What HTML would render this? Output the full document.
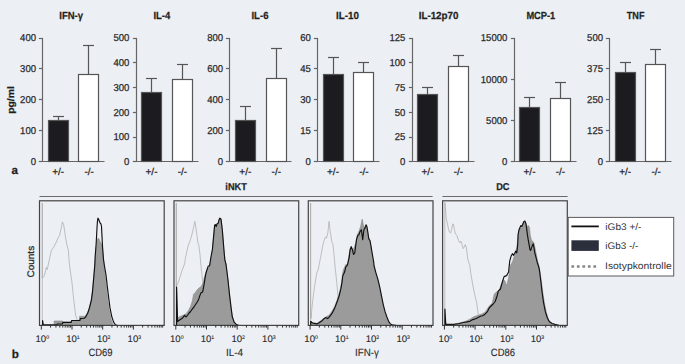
<!DOCTYPE html>
<html><head><meta charset="utf-8"><style>
html,body{margin:0;padding:0;background:#eceff4;}
svg{display:block;}
text{text-rendering:geometricPrecision;font-family:"Liberation Sans",sans-serif;fill:#2a2a2a;stroke:#2a2a2a;stroke-width:0.25px;}
.tt{font-size:10.3px;font-weight:bold;fill:#1e1e1e;}
.tl{font-size:10px;}
.lt{font-size:11.6px;font-weight:bold;fill:#1e1e1e;}
.yl{font-size:9.5px;font-weight:bold;fill:#1e1e1e;}
.cl{font-size:9.5px;}
.hd{font-size:10px;font-weight:bold;fill:#1e1e1e;}
.xl{font-size:9.6px;stroke-width:0.1px;}
.sp{font-size:5.2px;}
.xn{font-size:10.5px;stroke-width:0.1px;}
.lg{font-size:9.6px;stroke-width:0;fill:#333;}
.ax{stroke:#666;stroke-width:1.2;fill:none;}
.br{stroke:#6a6a6a;stroke-width:1.2;fill:none;}
.eb{stroke:#555;stroke-width:1.2;}
.bar{stroke:#555;stroke-width:1.2;}
.pb{stroke:#444;stroke-width:1.2;}
.tk{stroke:#222;stroke-width:0.9;}
</style></head><body>
<svg width="685" height="364" viewBox="0 0 685 364">
<defs><clipPath id="c0"><rect x="39.5" y="200.8" width="124.7" height="124.59999999999997"/></clipPath><clipPath id="c1"><rect x="174.0" y="200.8" width="124.7" height="124.59999999999997"/></clipPath><clipPath id="c2"><rect x="308.3" y="200.8" width="124.7" height="124.59999999999997"/></clipPath><clipPath id="c3"><rect x="442.6" y="200.8" width="124.7" height="124.59999999999997"/></clipPath></defs>
<rect width="685" height="364" fill="#eceff4"/>
<text x="59.28" y="18.8" class="tt" textLength="23.77" lengthAdjust="spacingAndGlyphs">IFN-γ</text>
<line x1="42.5" y1="37.9" x2="42.5" y2="161.5" class="ax"/>
<line x1="38.9" y1="161.5" x2="104.5" y2="161.5" class="ax"/>
<line x1="38.9" y1="161.5" x2="42.5" y2="161.5" class="ax"/>
<text x="36.0" y="165.10" class="tl" text-anchor="end" textLength="5.30" lengthAdjust="spacingAndGlyphs">0</text>
<line x1="38.9" y1="130.5" x2="42.5" y2="130.5" class="ax"/>
<text x="36.0" y="134.15" class="tl" text-anchor="end" textLength="15.90" lengthAdjust="spacingAndGlyphs">100</text>
<line x1="38.9" y1="99.5" x2="42.5" y2="99.5" class="ax"/>
<text x="36.0" y="103.20" class="tl" text-anchor="end" textLength="15.90" lengthAdjust="spacingAndGlyphs">200</text>
<line x1="38.9" y1="68.5" x2="42.5" y2="68.5" class="ax"/>
<text x="36.0" y="72.25" class="tl" text-anchor="end" textLength="15.90" lengthAdjust="spacingAndGlyphs">300</text>
<line x1="38.9" y1="38.5" x2="42.5" y2="38.5" class="ax"/>
<text x="36.0" y="41.30" class="tl" text-anchor="end" textLength="15.90" lengthAdjust="spacingAndGlyphs">400</text>
<line x1="58.5" y1="116.5" x2="58.5" y2="120.5" class="eb"/>
<line x1="53.0" y1="116.5" x2="64.0" y2="116.5" class="eb"/>
<rect x="48.5" y="120.5" width="20.0" height="41.0" fill="#1c1b1f" class="bar"/>
<line x1="88.5" y1="45.5" x2="88.5" y2="74.5" class="eb"/>
<line x1="83.0" y1="45.5" x2="94.0" y2="45.5" class="eb"/>
<rect x="78.5" y="74.5" width="20.0" height="87.0" fill="#fff" class="bar"/>
<text x="58.2" y="174.9" class="tl" text-anchor="middle">+/-</text>
<text x="89.2" y="174.9" class="tl" text-anchor="middle">-/-</text>
<text x="153.38" y="18.8" class="tt" textLength="16.89" lengthAdjust="spacingAndGlyphs">IL-4</text>
<line x1="136.5" y1="37.9" x2="136.5" y2="161.5" class="ax"/>
<line x1="132.9" y1="161.5" x2="198.5" y2="161.5" class="ax"/>
<line x1="132.9" y1="161.5" x2="136.5" y2="161.5" class="ax"/>
<text x="129.3" y="165.10" class="tl" text-anchor="end" textLength="5.30" lengthAdjust="spacingAndGlyphs">0</text>
<line x1="132.9" y1="137.5" x2="136.5" y2="137.5" class="ax"/>
<text x="129.3" y="140.34" class="tl" text-anchor="end" textLength="15.90" lengthAdjust="spacingAndGlyphs">100</text>
<line x1="132.9" y1="112.5" x2="136.5" y2="112.5" class="ax"/>
<text x="129.3" y="115.58" class="tl" text-anchor="end" textLength="15.90" lengthAdjust="spacingAndGlyphs">200</text>
<line x1="132.9" y1="87.5" x2="136.5" y2="87.5" class="ax"/>
<text x="129.3" y="90.82" class="tl" text-anchor="end" textLength="15.90" lengthAdjust="spacingAndGlyphs">300</text>
<line x1="132.9" y1="62.5" x2="136.5" y2="62.5" class="ax"/>
<text x="129.3" y="66.06" class="tl" text-anchor="end" textLength="15.90" lengthAdjust="spacingAndGlyphs">400</text>
<line x1="132.9" y1="38.5" x2="136.5" y2="38.5" class="ax"/>
<text x="129.3" y="41.30" class="tl" text-anchor="end" textLength="15.90" lengthAdjust="spacingAndGlyphs">500</text>
<line x1="151.5" y1="78.5" x2="151.5" y2="92.5" class="eb"/>
<line x1="146.0" y1="78.5" x2="157.0" y2="78.5" class="eb"/>
<rect x="141.5" y="92.5" width="20.0" height="69.0" fill="#1c1b1f" class="bar"/>
<line x1="182.5" y1="64.5" x2="182.5" y2="79.5" class="eb"/>
<line x1="177.0" y1="64.5" x2="188.0" y2="64.5" class="eb"/>
<rect x="172.5" y="79.5" width="20.0" height="82.0" fill="#fff" class="bar"/>
<text x="151.5" y="174.9" class="tl" text-anchor="middle">+/-</text>
<text x="182.5" y="174.9" class="tl" text-anchor="middle">-/-</text>
<text x="251.48" y="18.8" class="tt" textLength="16.98" lengthAdjust="spacingAndGlyphs">IL-6</text>
<line x1="229.5" y1="37.9" x2="229.5" y2="161.5" class="ax"/>
<line x1="225.9" y1="161.5" x2="291.5" y2="161.5" class="ax"/>
<line x1="225.9" y1="161.5" x2="229.5" y2="161.5" class="ax"/>
<text x="223.10000000000002" y="165.10" class="tl" text-anchor="end" textLength="5.30" lengthAdjust="spacingAndGlyphs">0</text>
<line x1="225.9" y1="130.5" x2="229.5" y2="130.5" class="ax"/>
<text x="223.10000000000002" y="134.15" class="tl" text-anchor="end" textLength="15.90" lengthAdjust="spacingAndGlyphs">200</text>
<line x1="225.9" y1="99.5" x2="229.5" y2="99.5" class="ax"/>
<text x="223.10000000000002" y="103.20" class="tl" text-anchor="end" textLength="15.90" lengthAdjust="spacingAndGlyphs">400</text>
<line x1="225.9" y1="68.5" x2="229.5" y2="68.5" class="ax"/>
<text x="223.10000000000002" y="72.25" class="tl" text-anchor="end" textLength="15.90" lengthAdjust="spacingAndGlyphs">600</text>
<line x1="225.9" y1="38.5" x2="229.5" y2="38.5" class="ax"/>
<text x="223.10000000000002" y="41.30" class="tl" text-anchor="end" textLength="15.90" lengthAdjust="spacingAndGlyphs">800</text>
<line x1="245.5" y1="106.5" x2="245.5" y2="120.5" class="eb"/>
<line x1="240.0" y1="106.5" x2="251.0" y2="106.5" class="eb"/>
<rect x="235.5" y="120.5" width="20.0" height="41.0" fill="#1c1b1f" class="bar"/>
<line x1="276.5" y1="48.5" x2="276.5" y2="78.5" class="eb"/>
<line x1="271.0" y1="48.5" x2="282.0" y2="48.5" class="eb"/>
<rect x="266.5" y="78.5" width="20.0" height="83.0" fill="#fff" class="bar"/>
<text x="245.3" y="174.9" class="tl" text-anchor="middle">+/-</text>
<text x="276.3" y="174.9" class="tl" text-anchor="middle">-/-</text>
<text x="335.96" y="18.8" class="tt" textLength="22.92" lengthAdjust="spacingAndGlyphs">IL-10</text>
<line x1="317.5" y1="37.9" x2="317.5" y2="161.5" class="ax"/>
<line x1="313.9" y1="161.5" x2="379.5" y2="161.5" class="ax"/>
<line x1="313.9" y1="161.5" x2="317.5" y2="161.5" class="ax"/>
<text x="310.8" y="165.10" class="tl" text-anchor="end" textLength="5.30" lengthAdjust="spacingAndGlyphs">0</text>
<line x1="313.9" y1="130.5" x2="317.5" y2="130.5" class="ax"/>
<text x="310.8" y="134.15" class="tl" text-anchor="end" textLength="10.60" lengthAdjust="spacingAndGlyphs">15</text>
<line x1="313.9" y1="99.5" x2="317.5" y2="99.5" class="ax"/>
<text x="310.8" y="103.20" class="tl" text-anchor="end" textLength="10.60" lengthAdjust="spacingAndGlyphs">30</text>
<line x1="313.9" y1="68.5" x2="317.5" y2="68.5" class="ax"/>
<text x="310.8" y="72.25" class="tl" text-anchor="end" textLength="10.60" lengthAdjust="spacingAndGlyphs">45</text>
<line x1="313.9" y1="38.5" x2="317.5" y2="38.5" class="ax"/>
<text x="310.8" y="41.30" class="tl" text-anchor="end" textLength="10.60" lengthAdjust="spacingAndGlyphs">60</text>
<line x1="333.5" y1="57.5" x2="333.5" y2="74.5" class="eb"/>
<line x1="328.0" y1="57.5" x2="339.0" y2="57.5" class="eb"/>
<rect x="323.5" y="74.5" width="20.0" height="87.0" fill="#1c1b1f" class="bar"/>
<line x1="363.5" y1="62.5" x2="363.5" y2="72.5" class="eb"/>
<line x1="358.0" y1="62.5" x2="369.0" y2="62.5" class="eb"/>
<rect x="353.5" y="72.5" width="20.0" height="89.0" fill="#fff" class="bar"/>
<text x="333.0" y="174.9" class="tl" text-anchor="middle">+/-</text>
<text x="364.0" y="174.9" class="tl" text-anchor="middle">-/-</text>
<text x="418.66" y="18.8" class="tt" textLength="39.85" lengthAdjust="spacingAndGlyphs">IL-12p70</text>
<line x1="412.5" y1="37.9" x2="412.5" y2="161.5" class="ax"/>
<line x1="408.9" y1="161.5" x2="474.5" y2="161.5" class="ax"/>
<line x1="408.9" y1="161.5" x2="412.5" y2="161.5" class="ax"/>
<text x="405.3" y="165.10" class="tl" text-anchor="end" textLength="5.30" lengthAdjust="spacingAndGlyphs">0</text>
<line x1="408.9" y1="137.5" x2="412.5" y2="137.5" class="ax"/>
<text x="405.3" y="140.34" class="tl" text-anchor="end" textLength="10.60" lengthAdjust="spacingAndGlyphs">25</text>
<line x1="408.9" y1="112.5" x2="412.5" y2="112.5" class="ax"/>
<text x="405.3" y="115.58" class="tl" text-anchor="end" textLength="10.60" lengthAdjust="spacingAndGlyphs">50</text>
<line x1="408.9" y1="87.5" x2="412.5" y2="87.5" class="ax"/>
<text x="405.3" y="90.82" class="tl" text-anchor="end" textLength="10.60" lengthAdjust="spacingAndGlyphs">75</text>
<line x1="408.9" y1="62.5" x2="412.5" y2="62.5" class="ax"/>
<text x="405.3" y="66.06" class="tl" text-anchor="end" textLength="15.90" lengthAdjust="spacingAndGlyphs">100</text>
<line x1="408.9" y1="38.5" x2="412.5" y2="38.5" class="ax"/>
<text x="405.3" y="41.30" class="tl" text-anchor="end" textLength="15.90" lengthAdjust="spacingAndGlyphs">125</text>
<line x1="427.5" y1="87.5" x2="427.5" y2="94.5" class="eb"/>
<line x1="422.0" y1="87.5" x2="433.0" y2="87.5" class="eb"/>
<rect x="417.5" y="94.5" width="20.0" height="67.0" fill="#1c1b1f" class="bar"/>
<line x1="458.5" y1="55.5" x2="458.5" y2="66.5" class="eb"/>
<line x1="453.0" y1="55.5" x2="464.0" y2="55.5" class="eb"/>
<rect x="448.5" y="66.5" width="20.0" height="95.0" fill="#fff" class="bar"/>
<text x="427.5" y="174.9" class="tl" text-anchor="middle">+/-</text>
<text x="458.5" y="174.9" class="tl" text-anchor="middle">-/-</text>
<text x="526.40" y="18.8" class="tt" textLength="28.85" lengthAdjust="spacingAndGlyphs">MCP-1</text>
<line x1="514.5" y1="37.9" x2="514.5" y2="161.5" class="ax"/>
<line x1="510.9" y1="161.5" x2="576.5" y2="161.5" class="ax"/>
<line x1="510.9" y1="161.5" x2="514.5" y2="161.5" class="ax"/>
<text x="507.3" y="165.10" class="tl" text-anchor="end" textLength="5.30" lengthAdjust="spacingAndGlyphs">0</text>
<line x1="510.9" y1="120.5" x2="514.5" y2="120.5" class="ax"/>
<text x="507.3" y="123.83" class="tl" text-anchor="end" textLength="21.20" lengthAdjust="spacingAndGlyphs">5000</text>
<line x1="510.9" y1="79.5" x2="514.5" y2="79.5" class="ax"/>
<text x="507.3" y="82.57" class="tl" text-anchor="end" textLength="26.50" lengthAdjust="spacingAndGlyphs">10000</text>
<line x1="510.9" y1="38.5" x2="514.5" y2="38.5" class="ax"/>
<text x="507.3" y="41.30" class="tl" text-anchor="end" textLength="26.50" lengthAdjust="spacingAndGlyphs">15000</text>
<line x1="529.5" y1="97.5" x2="529.5" y2="107.5" class="eb"/>
<line x1="524.0" y1="97.5" x2="535.0" y2="97.5" class="eb"/>
<rect x="519.5" y="107.5" width="20.0" height="54.0" fill="#1c1b1f" class="bar"/>
<line x1="560.5" y1="82.5" x2="560.5" y2="98.5" class="eb"/>
<line x1="555.0" y1="82.5" x2="566.0" y2="82.5" class="eb"/>
<rect x="550.5" y="98.5" width="20.0" height="63.0" fill="#fff" class="bar"/>
<text x="529.5" y="174.9" class="tl" text-anchor="middle">+/-</text>
<text x="560.5" y="174.9" class="tl" text-anchor="middle">-/-</text>
<text x="626.81" y="18.8" class="tt" textLength="17.70" lengthAdjust="spacingAndGlyphs">TNF</text>
<line x1="609.5" y1="37.9" x2="609.5" y2="161.5" class="ax"/>
<line x1="605.9" y1="161.5" x2="671.5" y2="161.5" class="ax"/>
<line x1="605.9" y1="161.5" x2="609.5" y2="161.5" class="ax"/>
<text x="603.0" y="165.10" class="tl" text-anchor="end" textLength="5.30" lengthAdjust="spacingAndGlyphs">0</text>
<line x1="605.9" y1="130.5" x2="609.5" y2="130.5" class="ax"/>
<text x="603.0" y="134.15" class="tl" text-anchor="end" textLength="15.90" lengthAdjust="spacingAndGlyphs">125</text>
<line x1="605.9" y1="99.5" x2="609.5" y2="99.5" class="ax"/>
<text x="603.0" y="103.20" class="tl" text-anchor="end" textLength="15.90" lengthAdjust="spacingAndGlyphs">250</text>
<line x1="605.9" y1="68.5" x2="609.5" y2="68.5" class="ax"/>
<text x="603.0" y="72.25" class="tl" text-anchor="end" textLength="15.90" lengthAdjust="spacingAndGlyphs">375</text>
<line x1="605.9" y1="38.5" x2="609.5" y2="38.5" class="ax"/>
<text x="603.0" y="41.30" class="tl" text-anchor="end" textLength="15.90" lengthAdjust="spacingAndGlyphs">500</text>
<line x1="625.5" y1="62.5" x2="625.5" y2="72.5" class="eb"/>
<line x1="620.0" y1="62.5" x2="631.0" y2="62.5" class="eb"/>
<rect x="615.5" y="72.5" width="20.0" height="89.0" fill="#1c1b1f" class="bar"/>
<line x1="655.5" y1="49.5" x2="655.5" y2="64.5" class="eb"/>
<line x1="650.0" y1="49.5" x2="661.0" y2="49.5" class="eb"/>
<rect x="645.5" y="64.5" width="20.0" height="97.0" fill="#fff" class="bar"/>
<text x="625.2" y="174.9" class="tl" text-anchor="middle">+/-</text>
<text x="656.2" y="174.9" class="tl" text-anchor="middle">-/-</text>
<text x="11.4" y="174" class="lt">a</text>
<text x="11.8" y="358.4" class="lt">b</text>
<text x="-113.77" y="13.8" class="yl" textLength="27.56" lengthAdjust="spacingAndGlyphs" transform="rotate(-90)">pg/ml</text>
<text x="-277.50" y="33.6" class="cl" textLength="31.63" lengthAdjust="spacingAndGlyphs" transform="rotate(-90)">Counts</text>
<line x1="39.5" y1="196.5" x2="432.6" y2="196.5" class="br"/>
<line x1="442.5" y1="196.5" x2="567.6" y2="196.5" class="br"/>
<text x="225.36" y="189.6" class="hd" textLength="21.46" lengthAdjust="spacingAndGlyphs">iNKT</text>
<text x="496.20" y="189.6" class="hd" textLength="13.27" lengthAdjust="spacingAndGlyphs">DC</text>
<g clip-path="url(#c0)">
<path d="M42.3,325.4 L42.3,203.0 L42.3,278.0 L42.9,277.5 L44.4,275.7 L45.3,272.0 L46.3,267.5 L47.2,269.5 L48.0,266.0 L49.7,257.8 L51.4,250.4 L53.8,247.0 L56.3,242.1 L58.0,238.0 L59.6,235.5 L61.2,228.1 L62.4,221.9 L63.7,224.8 L65.4,236.4 L67.0,245.4 L68.3,249.5 L69.0,259.4 L69.5,265.0 L72.0,282.9 L73.8,300.7 L75.6,315.0 L77.4,320.4 L78.0,325.4" fill="none" stroke="#a8a8a8" stroke-width="0.7"/>
<path d="M54.1,325.4 L54.1,321.0 L62.5,321.0 L62.8,322.2 L71.3,322.2 L71.6,320.5 L79.3,320.5 L79.6,316.3 L85.1,316.3 L86.0,315.0 L88.1,311.4 L89.5,306.0 L91.3,299.0 L92.5,290.0 L93.6,278.0 L94.8,264.0 L96.0,250.0 L97.3,240.0 L98.2,238.0 L99.5,239.7 L100.2,242.1 L101.1,243.0 L101.8,245.4 L102.6,248.7 L103.5,259.4 L104.4,270.0 L105.5,279.3 L107.3,297.1 L109.1,309.6 L110.9,318.6 L112.7,323.9 L113.6,325.4 Z" fill="#9b9b9b" stroke="#8a8a8a" stroke-width="0.6"/>
<path d="M42.6,325.4 L42.6,320.5 L43.3,324.7 L57.0,324.7 L57.3,324.0 L62.5,324.0 L62.8,322.3 L71.3,322.3 L71.6,320.5 L80.0,320.5 L80.3,318.6 L84.0,318.3 L85.5,317.2 L87.7,313.2 L89.5,307.9 L91.3,300.7 L92.5,291.8 L93.6,279.3 L94.8,265.0 L95.2,256.1 L96.2,243.0 L96.9,229.8 L97.4,221.5 L97.9,218.2 L98.5,219.0 L99.5,221.5 L100.2,223.2 L101.0,224.0 L101.5,226.5 L102.0,236.4 L102.6,247.9 L103.5,259.4 L104.3,265.0 L106.1,275.7 L107.3,286.4 L108.6,297.1 L110.0,307.9 L111.8,316.8 L113.6,322.1 L115.4,324.8 L117.1,325.4" fill="none" stroke="#111" stroke-width="1.15" stroke-linejoin="round"/>
</g>
<rect x="39.5" y="200.8" width="124.7" height="124.59999999999997" fill="none" class="pb"/>
<line x1="41.30" y1="325.4" x2="41.30" y2="329.59999999999997" class="tk"/>
<line x1="50.54" y1="325.4" x2="50.54" y2="327.59999999999997" class="tk"/>
<line x1="55.95" y1="325.4" x2="55.95" y2="327.59999999999997" class="tk"/>
<line x1="59.78" y1="325.4" x2="59.78" y2="327.59999999999997" class="tk"/>
<line x1="62.76" y1="325.4" x2="62.76" y2="327.59999999999997" class="tk"/>
<line x1="65.19" y1="325.4" x2="65.19" y2="327.59999999999997" class="tk"/>
<line x1="67.24" y1="325.4" x2="67.24" y2="327.59999999999997" class="tk"/>
<line x1="69.02" y1="325.4" x2="69.02" y2="327.59999999999997" class="tk"/>
<line x1="70.60" y1="325.4" x2="70.60" y2="327.59999999999997" class="tk"/>
<line x1="72.00" y1="325.4" x2="72.00" y2="329.59999999999997" class="tk"/>
<line x1="81.24" y1="325.4" x2="81.24" y2="327.59999999999997" class="tk"/>
<line x1="86.65" y1="325.4" x2="86.65" y2="327.59999999999997" class="tk"/>
<line x1="90.48" y1="325.4" x2="90.48" y2="327.59999999999997" class="tk"/>
<line x1="93.46" y1="325.4" x2="93.46" y2="327.59999999999997" class="tk"/>
<line x1="95.89" y1="325.4" x2="95.89" y2="327.59999999999997" class="tk"/>
<line x1="97.94" y1="325.4" x2="97.94" y2="327.59999999999997" class="tk"/>
<line x1="99.72" y1="325.4" x2="99.72" y2="327.59999999999997" class="tk"/>
<line x1="101.30" y1="325.4" x2="101.30" y2="327.59999999999997" class="tk"/>
<line x1="102.70" y1="325.4" x2="102.70" y2="329.59999999999997" class="tk"/>
<line x1="111.94" y1="325.4" x2="111.94" y2="327.59999999999997" class="tk"/>
<line x1="117.35" y1="325.4" x2="117.35" y2="327.59999999999997" class="tk"/>
<line x1="121.18" y1="325.4" x2="121.18" y2="327.59999999999997" class="tk"/>
<line x1="124.16" y1="325.4" x2="124.16" y2="327.59999999999997" class="tk"/>
<line x1="126.59" y1="325.4" x2="126.59" y2="327.59999999999997" class="tk"/>
<line x1="128.64" y1="325.4" x2="128.64" y2="327.59999999999997" class="tk"/>
<line x1="130.42" y1="325.4" x2="130.42" y2="327.59999999999997" class="tk"/>
<line x1="132.00" y1="325.4" x2="132.00" y2="327.59999999999997" class="tk"/>
<line x1="133.40" y1="325.4" x2="133.40" y2="329.59999999999997" class="tk"/>
<line x1="142.64" y1="325.4" x2="142.64" y2="327.59999999999997" class="tk"/>
<line x1="148.05" y1="325.4" x2="148.05" y2="327.59999999999997" class="tk"/>
<line x1="151.88" y1="325.4" x2="151.88" y2="327.59999999999997" class="tk"/>
<line x1="154.86" y1="325.4" x2="154.86" y2="327.59999999999997" class="tk"/>
<line x1="157.29" y1="325.4" x2="157.29" y2="327.59999999999997" class="tk"/>
<line x1="159.34" y1="325.4" x2="159.34" y2="327.59999999999997" class="tk"/>
<line x1="161.12" y1="325.4" x2="161.12" y2="327.59999999999997" class="tk"/>
<line x1="162.70" y1="325.4" x2="162.70" y2="327.59999999999997" class="tk"/>
<text x="35.50" y="341.8" class="xl">10<tspan class="sp" dy="-3.3">0</tspan></text>
<text x="66.20" y="341.8" class="xl">10<tspan class="sp" dy="-3.3">1</tspan></text>
<text x="96.90" y="341.8" class="xl">10<tspan class="sp" dy="-3.3">2</tspan></text>
<text x="127.60" y="341.8" class="xl">10<tspan class="sp" dy="-3.3">3</tspan></text>
<text x="88.43" y="355.5" class="xn" textLength="24.22" lengthAdjust="spacingAndGlyphs">CD69</text>
<g clip-path="url(#c1)">
<path d="M176.3,325.4 L176.3,203.0 L176.3,287.0 L178.8,281.0 L181.7,271.5 L184.6,263.8 L185.5,257.7 L188.0,246.2 L190.5,239.6 L191.3,237.1 L193.0,230.0 L194.9,221.5 L196.2,229.7 L197.9,242.9 L198.7,244.5 L200.0,254.4 L200.9,265.0 L202.8,283.0 L204.0,300.0 L205.0,325.4" fill="none" stroke="#a8a8a8" stroke-width="0.7"/>
<path d="M176.2,325.4 L176.5,287.0 L177.2,321.0 L178.8,317.0 L183.0,315.3 L186.0,313.8 L188.3,310.8 L190.6,306.3 L192.1,301.7 L193.6,294.2 L195.1,292.7 L197.4,289.6 L198.9,288.1 L201.1,286.6 L202.7,283.6 L203.4,282.1 L204.2,277.6 L205.7,273.0 L207.2,270.0 L208.6,267.7 L210.5,262.0 L212.4,249.5 L213.6,236.4 L214.6,225.6 L215.2,224.5 L216.2,226.5 L216.9,224.0 L218.2,223.2 L219.5,218.2 L221.0,219.0 L221.5,223.2 L222.3,229.8 L223.1,239.6 L223.9,249.5 L224.8,259.4 L226.1,265.0 L227.9,279.3 L229.6,295.4 L231.1,307.9 L232.3,316.8 L234.1,322.1 L236.8,324.8 L238.6,325.4 Z" fill="#9b9b9b" stroke="#8a8a8a" stroke-width="0.6"/>
<path d="M176.6,325.4 L176.6,287.0 L177.6,321.5 L180.0,319.8 L182.3,318.3 L184.5,315.3 L186.0,316.8 L187.6,315.3 L189.1,313.0 L190.6,311.5 L192.1,309.3 L194.4,306.3 L195.9,304.0 L197.4,301.7 L198.9,298.7 L199.6,296.4 L200.4,294.2 L201.1,292.7 L202.7,291.9 L203.4,288.1 L204.2,283.6 L204.9,279.1 L205.7,274.5 L206.4,271.5 L208.3,266.0 L209.6,265.8 L210.8,257.8 L212.4,249.5 L213.6,236.4 L214.6,225.6 L215.2,224.5 L216.2,226.5 L216.9,224.0 L218.2,223.2 L219.0,219.9 L219.8,218.2 L221.0,219.0 L221.5,223.2 L222.3,229.8 L223.1,239.6 L223.9,249.5 L224.8,259.4 L226.1,265.0 L227.9,279.3 L229.6,295.4 L231.1,307.9 L232.3,316.8 L234.1,322.1 L236.8,324.8 L238.6,325.4" fill="none" stroke="#111" stroke-width="1.15" stroke-linejoin="round"/>
</g>
<rect x="174.0" y="200.8" width="124.7" height="124.59999999999997" fill="none" class="pb"/>
<line x1="175.80" y1="325.4" x2="175.80" y2="329.59999999999997" class="tk"/>
<line x1="185.04" y1="325.4" x2="185.04" y2="327.59999999999997" class="tk"/>
<line x1="190.45" y1="325.4" x2="190.45" y2="327.59999999999997" class="tk"/>
<line x1="194.28" y1="325.4" x2="194.28" y2="327.59999999999997" class="tk"/>
<line x1="197.26" y1="325.4" x2="197.26" y2="327.59999999999997" class="tk"/>
<line x1="199.69" y1="325.4" x2="199.69" y2="327.59999999999997" class="tk"/>
<line x1="201.74" y1="325.4" x2="201.74" y2="327.59999999999997" class="tk"/>
<line x1="203.52" y1="325.4" x2="203.52" y2="327.59999999999997" class="tk"/>
<line x1="205.10" y1="325.4" x2="205.10" y2="327.59999999999997" class="tk"/>
<line x1="206.50" y1="325.4" x2="206.50" y2="329.59999999999997" class="tk"/>
<line x1="215.74" y1="325.4" x2="215.74" y2="327.59999999999997" class="tk"/>
<line x1="221.15" y1="325.4" x2="221.15" y2="327.59999999999997" class="tk"/>
<line x1="224.98" y1="325.4" x2="224.98" y2="327.59999999999997" class="tk"/>
<line x1="227.96" y1="325.4" x2="227.96" y2="327.59999999999997" class="tk"/>
<line x1="230.39" y1="325.4" x2="230.39" y2="327.59999999999997" class="tk"/>
<line x1="232.44" y1="325.4" x2="232.44" y2="327.59999999999997" class="tk"/>
<line x1="234.22" y1="325.4" x2="234.22" y2="327.59999999999997" class="tk"/>
<line x1="235.80" y1="325.4" x2="235.80" y2="327.59999999999997" class="tk"/>
<line x1="237.20" y1="325.4" x2="237.20" y2="329.59999999999997" class="tk"/>
<line x1="246.44" y1="325.4" x2="246.44" y2="327.59999999999997" class="tk"/>
<line x1="251.85" y1="325.4" x2="251.85" y2="327.59999999999997" class="tk"/>
<line x1="255.68" y1="325.4" x2="255.68" y2="327.59999999999997" class="tk"/>
<line x1="258.66" y1="325.4" x2="258.66" y2="327.59999999999997" class="tk"/>
<line x1="261.09" y1="325.4" x2="261.09" y2="327.59999999999997" class="tk"/>
<line x1="263.14" y1="325.4" x2="263.14" y2="327.59999999999997" class="tk"/>
<line x1="264.92" y1="325.4" x2="264.92" y2="327.59999999999997" class="tk"/>
<line x1="266.50" y1="325.4" x2="266.50" y2="327.59999999999997" class="tk"/>
<line x1="267.90" y1="325.4" x2="267.90" y2="329.59999999999997" class="tk"/>
<line x1="277.14" y1="325.4" x2="277.14" y2="327.59999999999997" class="tk"/>
<line x1="282.55" y1="325.4" x2="282.55" y2="327.59999999999997" class="tk"/>
<line x1="286.38" y1="325.4" x2="286.38" y2="327.59999999999997" class="tk"/>
<line x1="289.36" y1="325.4" x2="289.36" y2="327.59999999999997" class="tk"/>
<line x1="291.79" y1="325.4" x2="291.79" y2="327.59999999999997" class="tk"/>
<line x1="293.84" y1="325.4" x2="293.84" y2="327.59999999999997" class="tk"/>
<line x1="295.62" y1="325.4" x2="295.62" y2="327.59999999999997" class="tk"/>
<line x1="297.20" y1="325.4" x2="297.20" y2="327.59999999999997" class="tk"/>
<text x="170.00" y="341.8" class="xl">10<tspan class="sp" dy="-3.3">0</tspan></text>
<text x="200.70" y="341.8" class="xl">10<tspan class="sp" dy="-3.3">1</tspan></text>
<text x="231.40" y="341.8" class="xl">10<tspan class="sp" dy="-3.3">2</tspan></text>
<text x="262.10" y="341.8" class="xl">10<tspan class="sp" dy="-3.3">3</tspan></text>
<text x="225.90" y="355.5" class="xn" textLength="17.23" lengthAdjust="spacingAndGlyphs">IL-4</text>
<g clip-path="url(#c2)">
<path d="M310.6,325.4 L310.6,203.0 L310.6,318.6 L311.2,318.6 L311.9,307.9 L313.4,295.4 L315.1,282.9 L317.0,272.0 L318.2,270.0 L319.5,262.7 L321.2,254.5 L322.8,245.4 L324.1,240.5 L325.3,237.2 L326.5,238.0 L327.8,233.0 L329.1,221.5 L330.2,231.4 L331.9,242.1 L333.0,244.6 L334.0,254.5 L335.2,268.0 L336.4,279.0 L337.5,290.0 L338.4,302.0 L339.0,320.0" fill="none" stroke="#a8a8a8" stroke-width="0.7"/>
<path d="M310.8,325.4 L310.8,321.0 L312.5,322.5 L316.9,323.4 L318.7,322.1 L321.4,320.3 L324.1,318.0 L325.9,316.8 L329.4,315.0 L332.1,311.0 L334.8,306.0 L337.5,299.0 L340.1,290.0 L341.5,283.0 L342.8,272.1 L343.3,270.0 L345.8,264.4 L347.4,264.4 L349.9,249.5 L351.2,247.1 L352.4,251.2 L354.0,247.9 L355.7,243.0 L357.3,234.7 L358.9,231.4 L360.6,226.5 L362.2,219.1 L363.4,224.8 L364.7,228.1 L366.4,224.8 L367.2,229.8 L368.8,238.0 L370.0,241.3 L371.3,249.5 L372.6,257.8 L373.4,265.0 L375.5,272.5 L377.7,279.8 L379.4,287.0 L381.2,296.0 L383.0,305.0 L384.8,312.0 L386.6,317.5 L388.6,323.0 L390.4,325.4 Z" fill="#9b9b9b" stroke="#8a8a8a" stroke-width="0.6"/>
<path d="M310.7,325.4 L310.7,321.3 L312.5,323.0 L316.9,323.9 L318.7,323.0 L321.4,321.3 L324.1,318.6 L325.9,317.7 L327.6,318.6 L329.4,316.8 L332.1,313.2 L334.8,307.9 L337.5,300.7 L339.3,295.4 L341.0,288.2 L341.9,282.9 L342.8,275.7 L344.6,272.1 L345.8,266.8 L347.4,265.2 L349.1,257.8 L350.2,249.5 L351.2,246.6 L352.4,249.5 L353.5,254.5 L354.8,252.8 L356.5,239.7 L357.8,235.5 L358.9,234.7 L360.1,231.4 L361.4,229.8 L362.7,239.7 L363.9,229.8 L365.0,228.1 L366.0,224.8 L366.9,226.5 L367.7,231.4 L368.8,238.8 L370.0,240.5 L371.0,246.2 L372.1,252.8 L373.8,262.7 L373.9,265.0 L375.7,272.1 L377.9,279.3 L379.6,286.4 L381.4,295.4 L383.2,304.3 L385.0,311.4 L386.8,316.8 L388.6,321.3 L390.4,323.9 L392.1,324.8 L395.7,325.4" fill="none" stroke="#111" stroke-width="1.15" stroke-linejoin="round"/>
</g>
<rect x="308.3" y="200.8" width="124.7" height="124.59999999999997" fill="none" class="pb"/>
<line x1="310.10" y1="325.4" x2="310.10" y2="329.59999999999997" class="tk"/>
<line x1="319.34" y1="325.4" x2="319.34" y2="327.59999999999997" class="tk"/>
<line x1="324.75" y1="325.4" x2="324.75" y2="327.59999999999997" class="tk"/>
<line x1="328.58" y1="325.4" x2="328.58" y2="327.59999999999997" class="tk"/>
<line x1="331.56" y1="325.4" x2="331.56" y2="327.59999999999997" class="tk"/>
<line x1="333.99" y1="325.4" x2="333.99" y2="327.59999999999997" class="tk"/>
<line x1="336.04" y1="325.4" x2="336.04" y2="327.59999999999997" class="tk"/>
<line x1="337.82" y1="325.4" x2="337.82" y2="327.59999999999997" class="tk"/>
<line x1="339.40" y1="325.4" x2="339.40" y2="327.59999999999997" class="tk"/>
<line x1="340.80" y1="325.4" x2="340.80" y2="329.59999999999997" class="tk"/>
<line x1="350.04" y1="325.4" x2="350.04" y2="327.59999999999997" class="tk"/>
<line x1="355.45" y1="325.4" x2="355.45" y2="327.59999999999997" class="tk"/>
<line x1="359.28" y1="325.4" x2="359.28" y2="327.59999999999997" class="tk"/>
<line x1="362.26" y1="325.4" x2="362.26" y2="327.59999999999997" class="tk"/>
<line x1="364.69" y1="325.4" x2="364.69" y2="327.59999999999997" class="tk"/>
<line x1="366.74" y1="325.4" x2="366.74" y2="327.59999999999997" class="tk"/>
<line x1="368.52" y1="325.4" x2="368.52" y2="327.59999999999997" class="tk"/>
<line x1="370.10" y1="325.4" x2="370.10" y2="327.59999999999997" class="tk"/>
<line x1="371.50" y1="325.4" x2="371.50" y2="329.59999999999997" class="tk"/>
<line x1="380.74" y1="325.4" x2="380.74" y2="327.59999999999997" class="tk"/>
<line x1="386.15" y1="325.4" x2="386.15" y2="327.59999999999997" class="tk"/>
<line x1="389.98" y1="325.4" x2="389.98" y2="327.59999999999997" class="tk"/>
<line x1="392.96" y1="325.4" x2="392.96" y2="327.59999999999997" class="tk"/>
<line x1="395.39" y1="325.4" x2="395.39" y2="327.59999999999997" class="tk"/>
<line x1="397.44" y1="325.4" x2="397.44" y2="327.59999999999997" class="tk"/>
<line x1="399.22" y1="325.4" x2="399.22" y2="327.59999999999997" class="tk"/>
<line x1="400.80" y1="325.4" x2="400.80" y2="327.59999999999997" class="tk"/>
<line x1="402.20" y1="325.4" x2="402.20" y2="329.59999999999997" class="tk"/>
<line x1="411.44" y1="325.4" x2="411.44" y2="327.59999999999997" class="tk"/>
<line x1="416.85" y1="325.4" x2="416.85" y2="327.59999999999997" class="tk"/>
<line x1="420.68" y1="325.4" x2="420.68" y2="327.59999999999997" class="tk"/>
<line x1="423.66" y1="325.4" x2="423.66" y2="327.59999999999997" class="tk"/>
<line x1="426.09" y1="325.4" x2="426.09" y2="327.59999999999997" class="tk"/>
<line x1="428.14" y1="325.4" x2="428.14" y2="327.59999999999997" class="tk"/>
<line x1="429.92" y1="325.4" x2="429.92" y2="327.59999999999997" class="tk"/>
<line x1="431.50" y1="325.4" x2="431.50" y2="327.59999999999997" class="tk"/>
<text x="304.30" y="341.8" class="xl">10<tspan class="sp" dy="-3.3">0</tspan></text>
<text x="335.00" y="341.8" class="xl">10<tspan class="sp" dy="-3.3">1</tspan></text>
<text x="365.70" y="341.8" class="xl">10<tspan class="sp" dy="-3.3">2</tspan></text>
<text x="396.40" y="341.8" class="xl">10<tspan class="sp" dy="-3.3">3</tspan></text>
<text x="355.02" y="355.5" class="xn" textLength="23.92" lengthAdjust="spacingAndGlyphs">IFN-γ</text>
<g clip-path="url(#c3)">
<path d="M444.8,325.4 L444.8,202.5 L445.0,202.5 L445.6,209.9 L446.1,218.1 L446.9,221.4 L448.3,228.0 L449.4,232.1 L450.6,233.0 L451.6,229.7 L452.7,223.9 L453.5,224.4 L454.4,229.7 L455.5,233.8 L456.8,235.4 L458.5,240.4 L459.8,242.8 L460.9,241.2 L462.1,244.5 L463.1,248.6 L464.2,247.0 L465.4,244.5 L466.4,247.8 L467.2,254.4 L468.0,260.0 L469.9,265.8 L470.8,273.5 L472.8,285.0 L474.7,294.6 L476.6,302.3 L477.6,310.0 L478.5,315.8 L479.5,320.0" fill="none" stroke="#a8a8a8" stroke-width="0.7"/>
<path d="M445.0,325.4 L453.5,324.8 L457.4,323.5 L465.1,321.5 L470.8,318.7 L473.7,316.7 L476.6,315.8 L479.5,314.8 L482.4,313.8 L485.3,311.9 L488.2,307.5 L490.1,305.0 L492.1,303.5 L494.2,294.2 L496.2,292.1 L499.3,290.0 L501.4,283.9 L503.5,279.7 L505.0,281.0 L506.6,285.9 L508.6,277.7 L510.3,265.3 L511.7,263.2 L512.7,261.2 L515.2,252.8 L516.8,247.9 L518.5,231.4 L520.1,228.1 L521.8,228.1 L522.6,223.2 L524.2,221.5 L524.9,221.2 L525.9,223.2 L527.4,226.5 L528.6,225.6 L529.6,228.1 L530.2,234.7 L531.5,240.5 L532.9,241.3 L534.0,243.0 L535.7,251.2 L537.3,259.4 L538.9,266.0 L539.8,270.0 L541.5,282.0 L543.0,294.0 L544.8,305.0 L546.5,313.0 L548.5,319.5 L551.0,323.0 L553.0,324.5 L556.0,325.4 Z" fill="#9b9b9b" stroke="#8a8a8a" stroke-width="0.6"/>
<path d="M444.9,325.4 L444.9,309.0 L445.8,324.4 L453.5,324.4 L459.3,323.5 L463.2,322.5 L467.0,321.9 L469.9,321.2 L472.8,319.6 L475.7,318.7 L478.5,317.3 L480.5,316.2 L482.4,315.8 L484.3,314.8 L487.2,311.9 L488.0,310.5 L489.1,308.1 L491.1,306.0 L493.2,304.0 L495.2,301.5 L497.3,295.2 L498.3,291.1 L500.4,289.0 L502.4,281.8 L504.1,276.6 L506.6,275.6 L508.6,272.0 L509.7,261.1 L511.1,256.1 L512.4,253.7 L513.5,255.3 L514.7,253.2 L515.7,251.2 L516.8,252.8 L517.7,244.6 L518.1,234.7 L519.0,229.8 L520.1,227.3 L520.9,225.6 L521.8,226.5 L522.9,224.0 L523.9,221.5 L524.9,221.0 L525.8,223.2 L526.6,228.1 L527.4,234.7 L528.2,239.7 L529.1,244.6 L529.9,249.5 L530.7,250.4 L531.5,247.9 L532.4,245.4 L533.2,243.8 L534.0,247.9 L534.8,252.8 L536.1,257.8 L537.3,262.7 L538.5,266.0 L539.4,270.0 L540.6,279.2 L541.9,290.8 L543.5,302.3 L545.4,311.9 L547.3,317.7 L549.2,321.5 L552.1,323.5 L555.0,324.4 L558.8,325.4" fill="none" stroke="#111" stroke-width="1.15" stroke-linejoin="round"/>
</g>
<rect x="442.6" y="200.8" width="124.7" height="124.59999999999997" fill="none" class="pb"/>
<line x1="444.40" y1="325.4" x2="444.40" y2="329.59999999999997" class="tk"/>
<line x1="453.64" y1="325.4" x2="453.64" y2="327.59999999999997" class="tk"/>
<line x1="459.05" y1="325.4" x2="459.05" y2="327.59999999999997" class="tk"/>
<line x1="462.88" y1="325.4" x2="462.88" y2="327.59999999999997" class="tk"/>
<line x1="465.86" y1="325.4" x2="465.86" y2="327.59999999999997" class="tk"/>
<line x1="468.29" y1="325.4" x2="468.29" y2="327.59999999999997" class="tk"/>
<line x1="470.34" y1="325.4" x2="470.34" y2="327.59999999999997" class="tk"/>
<line x1="472.12" y1="325.4" x2="472.12" y2="327.59999999999997" class="tk"/>
<line x1="473.70" y1="325.4" x2="473.70" y2="327.59999999999997" class="tk"/>
<line x1="475.10" y1="325.4" x2="475.10" y2="329.59999999999997" class="tk"/>
<line x1="484.34" y1="325.4" x2="484.34" y2="327.59999999999997" class="tk"/>
<line x1="489.75" y1="325.4" x2="489.75" y2="327.59999999999997" class="tk"/>
<line x1="493.58" y1="325.4" x2="493.58" y2="327.59999999999997" class="tk"/>
<line x1="496.56" y1="325.4" x2="496.56" y2="327.59999999999997" class="tk"/>
<line x1="498.99" y1="325.4" x2="498.99" y2="327.59999999999997" class="tk"/>
<line x1="501.04" y1="325.4" x2="501.04" y2="327.59999999999997" class="tk"/>
<line x1="502.82" y1="325.4" x2="502.82" y2="327.59999999999997" class="tk"/>
<line x1="504.40" y1="325.4" x2="504.40" y2="327.59999999999997" class="tk"/>
<line x1="505.80" y1="325.4" x2="505.80" y2="329.59999999999997" class="tk"/>
<line x1="515.04" y1="325.4" x2="515.04" y2="327.59999999999997" class="tk"/>
<line x1="520.45" y1="325.4" x2="520.45" y2="327.59999999999997" class="tk"/>
<line x1="524.28" y1="325.4" x2="524.28" y2="327.59999999999997" class="tk"/>
<line x1="527.26" y1="325.4" x2="527.26" y2="327.59999999999997" class="tk"/>
<line x1="529.69" y1="325.4" x2="529.69" y2="327.59999999999997" class="tk"/>
<line x1="531.74" y1="325.4" x2="531.74" y2="327.59999999999997" class="tk"/>
<line x1="533.52" y1="325.4" x2="533.52" y2="327.59999999999997" class="tk"/>
<line x1="535.10" y1="325.4" x2="535.10" y2="327.59999999999997" class="tk"/>
<line x1="536.50" y1="325.4" x2="536.50" y2="329.59999999999997" class="tk"/>
<line x1="545.74" y1="325.4" x2="545.74" y2="327.59999999999997" class="tk"/>
<line x1="551.15" y1="325.4" x2="551.15" y2="327.59999999999997" class="tk"/>
<line x1="554.98" y1="325.4" x2="554.98" y2="327.59999999999997" class="tk"/>
<line x1="557.96" y1="325.4" x2="557.96" y2="327.59999999999997" class="tk"/>
<line x1="560.39" y1="325.4" x2="560.39" y2="327.59999999999997" class="tk"/>
<line x1="562.44" y1="325.4" x2="562.44" y2="327.59999999999997" class="tk"/>
<line x1="564.22" y1="325.4" x2="564.22" y2="327.59999999999997" class="tk"/>
<line x1="565.80" y1="325.4" x2="565.80" y2="327.59999999999997" class="tk"/>
<text x="438.60" y="341.8" class="xl">10<tspan class="sp" dy="-3.3">0</tspan></text>
<text x="469.30" y="341.8" class="xl">10<tspan class="sp" dy="-3.3">1</tspan></text>
<text x="500.00" y="341.8" class="xl">10<tspan class="sp" dy="-3.3">2</tspan></text>
<text x="530.70" y="341.8" class="xl">10<tspan class="sp" dy="-3.3">3</tspan></text>
<text x="490.83" y="355.5" class="xn" textLength="24.27" lengthAdjust="spacingAndGlyphs">CD86</text>
<rect x="568.2" y="217.4" width="105.5" height="58.6" fill="#fff" stroke="#5a5a5a" stroke-width="1"/>
<line x1="571.4" y1="226.4" x2="598.8" y2="226.4" stroke="#111" stroke-width="1.8"/>
<rect x="571.4" y="240.3" width="27.4" height="10.6" fill="#2b2e3b"/>
<line x1="571.4" y1="266.4" x2="598.8" y2="266.4" stroke="#858585" stroke-width="2.5" stroke-dasharray="2.7 2.8"/>
<text x="605.35" y="230.2" class="lg" textLength="36.11" lengthAdjust="spacingAndGlyphs">iGb3 +/-</text>
<text x="605.36" y="248.5" class="lg" textLength="33.08" lengthAdjust="spacingAndGlyphs">iGb3 -/-</text>
<text x="605.07" y="269.3" class="lg" textLength="66.62" lengthAdjust="spacingAndGlyphs">Isotypkontrolle</text>
</svg>
</body></html>
